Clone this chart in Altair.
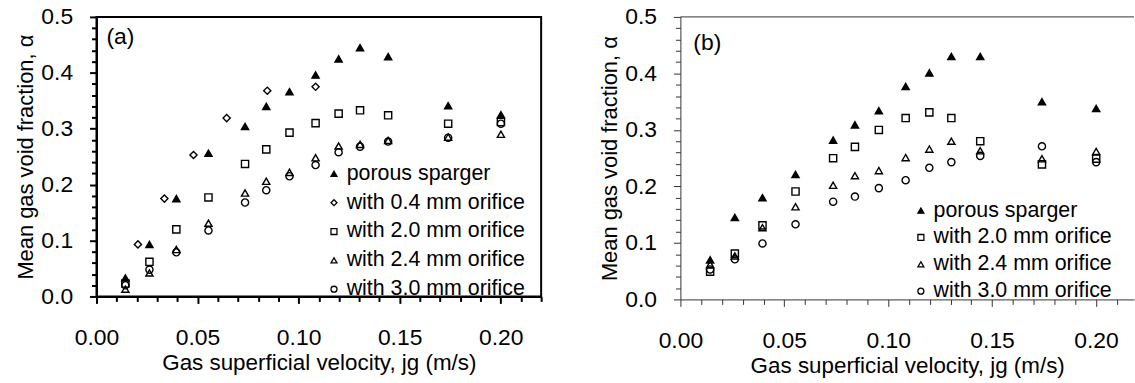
import altair as alt
import pandas as pd

FONT = "Liberation Sans"

# ---------------- data ----------------
jg = [0.0143, 0.0262, 0.0395, 0.0554, 0.0735, 0.0840, 0.0955, 0.1084, 0.1198, 0.1304, 0.1443, 0.1740, 0.2001]

# panel (a)
porous_a = [0.033, 0.093, 0.175, 0.256, 0.304, 0.340, 0.366, 0.396, 0.425, 0.445, 0.429, 0.341, 0.325]
jg_04 = [0.0205, 0.0336, 0.0480, 0.0644, 0.0845, 0.1084]
orif04_a = [0.093, 0.175, 0.253, 0.319, 0.368, 0.375]
orif20_a = [0.023, 0.062, 0.120, 0.177, 0.237, 0.263, 0.293, 0.310, 0.327, 0.333, 0.324, 0.309, 0.312]
orif24_a = [0.013, 0.042, 0.084, 0.131, 0.185, 0.206, 0.222, 0.248, 0.269, 0.272, 0.279, 0.285, 0.290]
orif30_a = [0.020, 0.048, 0.079, 0.118, 0.168, 0.190, 0.215, 0.235, 0.258, 0.268, 0.277, 0.284, 0.309]

# panel (b)
porous_b = [0.070, 0.145, 0.180, 0.221, 0.282, 0.309, 0.334, 0.377, 0.401, 0.430, 0.430, 0.350, 0.338]
orif20_b = [0.049, 0.081, 0.131, 0.191, 0.250, 0.270, 0.300, 0.321, 0.331, 0.321, 0.280, 0.239, 0.249]
orif24_b = [0.062, 0.077, 0.127, 0.164, 0.202, 0.219, 0.228, 0.251, 0.266, 0.280, 0.263, 0.249, 0.262]
orif30_b = [0.053, 0.071, 0.099, 0.133, 0.173, 0.182, 0.197, 0.211, 0.233, 0.243, 0.254, 0.271, 0.243]

labels_a = ["porous sparger", "with 0.4 mm orifice", "with 2.0 mm orifice",
            "with 2.4 mm orifice", "with 3.0 mm orifice"]
shapes_a = ["triangle-up", "diamond", "square", "triangle-up", "circle"]
fills_a = ["black", "transparent", "transparent", "transparent", "transparent"]

labels_b = ["porous sparger", "with 2.0 mm orifice", "with 2.4 mm orifice", "with 3.0 mm orifice"]
shapes_b = ["triangle-up", "square", "triangle-up", "circle"]
fills_b = ["black", "transparent", "transparent", "transparent"]

x_ticks_a = [round(i * 0.01, 2) for i in range(23)]
x_ticks_b = [round(i * 0.01, 2) for i in range(22)]
y_ticks = [round(i * 0.02, 2) for i in range(26)]

X_TITLE = "Gas superficial velocity, jg (m/s)"
Y_TITLE = "Mean gas void fraction, α"


def build(series):
    rows = []
    for k, (lab, xs, ys) in enumerate(series):
        for x, y in zip(xs, ys):
            rows.append({"jg": x, "alpha": y, "series": lab, "k": k})
    return pd.DataFrame(rows)


df_a = build([(labels_a[0], jg, porous_a), (labels_a[1], jg_04, orif04_a),
              (labels_a[2], jg, orif20_a), (labels_a[3], jg, orif24_a),
              (labels_a[4], jg, orif30_a)])
df_b = build([(labels_b[0], jg, porous_b), (labels_b[1], jg, orif20_b),
              (labels_b[2], jg, orif24_b), (labels_b[3], jg, orif30_b)])

MAJ_X = "abs(datum.value*20 - round(datum.value*20)) < 0.001"
MAJ_Y = "abs(datum.value*10 - round(datum.value*10)) < 0.001"


def panel(df, labels, shapes, fills, xmax, xticks, w, h, line_w, line_c,
          leg_x, leg_y, leg_row, tag, tag_x, tag_y, boxed):
    x_axis = alt.Axis(values=xticks, title=X_TITLE,
                      labelExpr=f"{MAJ_X} ? format(datum.value, '.2f') : ''",
                      tickSize={"condition": {"test": MAJ_X, "value": 7}, "value": 5},
                      tickColor=line_c, tickWidth=line_w, domainColor=line_c,
                      domainWidth=line_w, grid=False, labelFontSize=23,
                      labelColor="black", labelPadding=23, titleFontSize=22.5,
                      titleFontWeight="normal", titleColor="black", titlePadding=2,
                      labelFont=FONT, titleFont=FONT, labelFlush=False,
                      labelOverlap=False)
    y_axis = alt.Axis(values=y_ticks, title=Y_TITLE,
                      labelExpr=f"{MAJ_Y} ? format(datum.value, '.1f') : ''",
                      tickSize={"condition": {"test": MAJ_Y, "value": 7}, "value": 5},
                      tickColor=line_c, tickWidth=line_w, domainColor=line_c,
                      domainWidth=line_w, grid=False, labelFontSize=23,
                      labelColor="black", labelPadding=17, titleFontSize=22,
                      titleFontWeight="normal", titleColor="black", titlePadding=3,
                      labelFont=FONT, titleFont=FONT, labelFlush=False,
                      labelOverlap=False)
    legend = alt.Legend(title=None, orient="none", legendX=leg_x, legendY=leg_y,
                        labelFontSize=21.5, labelFont=FONT, labelColor="black",
                        labelLimit=500, symbolSize=36, symbolStrokeWidth=1.3,
                        rowPadding=leg_row, labelOffset=2, padding=0)
    strokes = ["black"] * len(labels)
    pts = alt.Chart(df).mark_point(filled=False, strokeWidth=1.4,
                                   opacity=1, size=52).encode(
        x=alt.X("jg:Q", scale=alt.Scale(domain=[0, xmax], nice=False, zero=True),
                axis=x_axis),
        y=alt.Y("alpha:Q", scale=alt.Scale(domain=[0, 0.5], nice=False), axis=y_axis),
        stroke=alt.Stroke("series:N", scale=alt.Scale(domain=labels, range=strokes),
                          legend=legend, sort=labels),
        shape=alt.Shape("series:N", scale=alt.Scale(domain=labels, range=shapes),
                        legend=legend, sort=labels),
        fill=alt.Fill("series:N", scale=alt.Scale(domain=labels, range=fills),
                      legend=legend, sort=labels),
        order=alt.Order("k:Q"),
    )
    tag_layer = alt.Chart(alt.Data(values=[{"tag": tag}])).mark_text(
        align="left", baseline="middle", fontSize=23, font=FONT, color="black"
    ).encode(x=alt.value(tag_x), y=alt.value(tag_y), text="tag:N")
    layers = [pts, tag_layer]
    if boxed:
        view = alt.ViewBackground(stroke="black", strokeWidth=line_w)
    else:
        view = alt.ViewBackground(stroke="transparent", strokeWidth=0)
        top = alt.Chart(alt.Data(values=[{"tag": tag}])).mark_rule(
            color=line_c, strokeWidth=line_w
        ).encode(x=alt.value(0), x2=alt.value(w), y=alt.value(0))
        layers.append(top)
    return alt.layer(*layers).properties(width=w, height=h, view=view)


left = panel(df_a, labels_a, shapes_a, fills_a, 0.22, x_ticks_a, 447, 281, 2, "black",
             228, 147, 6, "(a)", 10, 20, True)
right = panel(df_b, labels_b, shapes_b, fills_b, 0.2183, x_ticks_b, 456, 284, 1, "#333333",
              231, 184, 4, "(b)", 13, 26, False)

chart = alt.hconcat(left, right, spacing=56).resolve_scale(
    shape="independent", fill="independent", stroke="independent",
    x="independent", y="independent"
).properties(
    padding={"left": 14, "top": 4, "right": 0, "bottom": 0},
    background="white",
).configure(font=FONT)

chart.save("out.html", embed_options={"renderer": "svg", "actions": False})
